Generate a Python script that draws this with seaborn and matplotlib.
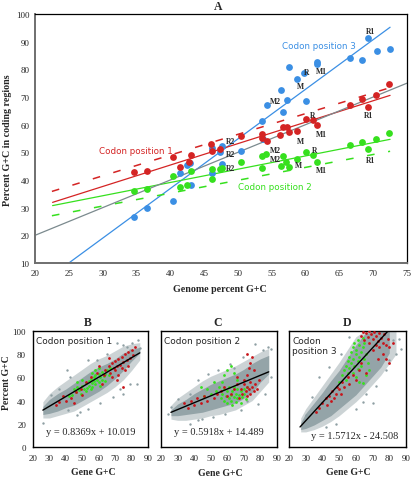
import numpy as np
import pandas as pd
import matplotlib
matplotlib.use("Agg")
import matplotlib.pyplot as plt
import seaborn as sns

sns.set_style("white")
plt.rcParams['font.family'] = ['Liberation Serif', 'DejaVu Serif']

# ---------------- Panel A data ----------------
pos3_x = [34.6, 36.6, 40.4, 41.5, 42.5, 42.9, 43.1, 46.1, 46.2, 47.3, 47.6, 47.7, 50.5, 53.5, 53.7,
          54.3, 56.4, 56.7, 57.3, 57.6, 58.8, 59.8, 60.0, 61.7, 61.7, 66.6, 68.3, 69.3, 70.5, 72.5]
pos3_y = [26.5, 30.0, 32.4, 42.6, 45.5, 46.2, 38.2, 42.4, 51.4, 50.2, 45.8, 52.4, 50.5, 61.5, 55.0,
          67.0, 72.6, 64.6, 69.0, 80.9, 76.6, 78.8, 68.4, 82.8, 82.1, 84.0, 83.2, 91.2, 86.8, 87.4]
pos1_x = [34.6, 36.6, 40.4, 41.5, 42.7, 43.1, 46.0, 46.2, 47.3, 50.5, 53.5, 53.5, 54.3, 56.2, 56.6,
          57.2, 57.5, 58.8, 60.0, 61.1, 61.7, 66.6, 68.3, 69.3, 70.4, 72.4]
pos1_y = [43.0, 43.3, 48.2, 44.7, 46.4, 48.9, 53.0, 50.6, 51.2, 55.8, 56.8, 55.2, 54.0, 56.4, 59.2,
          59.2, 57.4, 57.6, 61.9, 61.6, 59.8, 67.0, 69.4, 66.4, 70.6, 74.8]
pos2_x = [34.6, 36.6, 40.4, 41.5, 42.4, 43.1, 46.2, 46.2, 47.3, 47.6, 50.5, 53.5, 53.6, 54.2, 56.3,
          56.7, 57.1, 57.5, 58.8, 60.0, 61.1, 61.7, 66.6, 68.3, 69.3, 70.4, 72.4]
pos2_y = [36.2, 36.6, 41.4, 37.4, 38.2, 43.4, 44.0, 40.2, 43.8, 44.2, 46.6, 44.2, 48.6, 49.4, 45.0,
          48.6, 46.6, 44.7, 47.6, 50.2, 49.0, 46.6, 52.8, 53.8, 51.1, 55.0, 57.0]

# fitted lines in panel A: slope, intercept, x-start, x-end
lineA_names = ['pos3', 'pos1', 'pos1_dash', 'pos2', 'pos2_dash', 'genome']
lineA_slope = [1.794, 0.775, 0.75, 0.48, 0.466, 1.0]
lineA_icpt = [-34.85, 14.4, 19.0, 19.9, 16.6, 0.0]
lineA_x0 = [25.14, 22.6, 22.5, 22.6, 22.5, 20.0]
lineA_x1 = [72.5, 72.5, 72.5, 72.5, 72.5, 75.0]

# organism labels in panel A
lab_text = ['R1', 'R', 'M1', 'M', 'M2', 'R2',
            'R', 'M1', 'R1', 'M', 'R2',
            'M2', 'M2', 'M', 'R', 'M1', 'R1', 'R2']
lab_x = [69.6, 60.1, 62.4, 59.3, 55.5, 48.9,
         61.0, 62.3, 69.3, 59.3, 48.9,
         55.5, 55.5, 58.9, 61.4, 62.4, 69.6, 48.9]
lab_y = [94.0, 79.2, 79.5, 73.9, 68.4, 54.1,
         63.6, 56.6, 63.5, 54.1, 49.5,
         51.0, 47.7, 45.3, 51.0, 43.7, 47.3, 44.5]

# ---------------- Panels B, C, D data ----------------
slopes = [0.8369, 0.5918, 1.5712]
icpts = [10.019, 14.489, -24.508]
eq_texts = ['y = 0.8369x + 10.019', 'y = 0.5918x + 14.489', 'y = 1.5712x - 24.508']
fit_x0 = [26.0, 26.0, 26.6]
fit_x1 = [85.0, 85.0, 79.2]

# dense core of the gene clouds (lower / upper edge)
b_band_x = [26, 30, 35, 40, 45, 50, 55, 60, 65, 70, 75, 80, 85]
b_band_hi = [35, 41, 46, 50, 55, 60, 65, 69, 72, 76, 81, 84, 86]
b_band_lo = [28, 29, 31, 34, 36, 40, 44, 48, 53, 59, 66, 74, 81]
c_band_x = [26, 30, 35, 40, 45, 50, 55, 60, 65, 70, 75, 80, 85]
c_band_hi = [32, 37, 41, 46, 50, 54, 57, 60, 63, 67, 72, 76, 79]
c_band_lo = [27, 27, 28, 29, 30, 32, 34, 36, 38, 42, 47, 56, 63]
d_band_x = [27, 30, 35, 40, 45, 50, 55, 60, 65, 70, 75, 80]
d_band_hi = [21, 29, 38, 47, 57, 66, 77, 88, 97, 100, 100, 100]
d_band_lo = [15, 16, 19, 23, 27, 33, 39, 45, 53, 61, 69, 81]
# sparser outer part of the clouds
b_out_x = [26, 30, 35, 40, 45, 50, 55, 60, 65, 70, 75, 80, 85]
b_out_hi = [39, 46, 52, 57, 62, 67, 72, 76, 79, 83, 87, 89, 90]
b_out_lo = [25, 25, 27, 29, 31, 35, 39, 43, 47, 52, 58, 66, 75]
c_out_x = [26, 30, 35, 40, 45, 50, 55, 60, 65, 70, 75, 80, 85]
c_out_hi = [36, 42, 47, 52, 57, 61, 64, 67, 70, 74, 78, 82, 85]
c_out_lo = [24, 23, 23, 24, 25, 27, 28, 30, 32, 36, 40, 48, 56]
d_out_x = [27, 30, 35, 40, 45, 50, 55, 60, 65, 70, 75, 80, 84]
d_out_hi = [25, 33, 43, 53, 63, 73, 84, 95, 100, 100, 100, 100, 100]
d_out_lo = [13, 13, 15, 18, 22, 27, 33, 39, 46, 54, 62, 72, 80]

b_gray_x = [25.9, 46.6, 48.6, 53.7, 41.5, 40.5, 42.5, 53.7, 58.8, 64.8, 75.0, 84.1, 79.0, 79.0, 83.1,
            73.0, 75.0, 68.9, 80.1, 85.1, 77.0, 70.9, 36.0, 31.0, 60.5]
b_gray_y = [20.7, 27.3, 30.2, 33.0, 31.6, 66.1, 60.3, 74.7, 74.7, 80.5, 87.6, 92.0, 83.3, 54.6, 54.6,
            50.3, 46.0, 43.1, 89.7, 85.6, 86.2, 89.7, 50.0, 45.0, 38.0]
b_green_x = [44, 45, 46, 47, 48, 49, 50, 51, 52, 52, 53, 54, 54, 55, 55, 56, 56, 57, 57, 58, 58, 59,
             60, 60, 61, 61, 62, 62, 63, 64, 64, 65, 66, 67, 58, 60, 56, 50, 42, 47]
b_green_y = [45, 50, 47, 52, 49, 46, 53, 50, 55, 48, 51, 57, 53, 50, 59, 55, 52, 60, 57, 54, 62, 58,
             56, 63, 60, 53, 58, 65, 61, 63, 57, 66, 62, 68, 66, 68, 64, 58, 44, 56]
b_red_x = [64, 66, 67, 68, 69, 70, 70, 71, 72, 72, 73, 74, 74, 75, 76, 76, 77, 78, 78, 79, 80, 81, 82,
           75, 71, 66, 68, 63, 60, 59, 55, 52, 49, 46, 43, 40, 38, 36, 34, 45, 50, 62]
b_red_y = [66, 70, 64, 72, 68, 66, 74, 70, 62, 76, 71, 68, 78, 73, 80, 66, 75, 70, 82, 77, 84, 79, 86,
           52, 58, 77, 60, 62, 70, 64, 60, 56, 50, 47, 42, 40, 44, 39, 36, 38, 45, 54]

c_gray_x = [84.6, 86.6, 81.5, 76.5, 69.5, 61.4, 54.4, 48.4, 42.3, 37.3, 26.2, 24.2, 37.3, 42.3, 51.4,
            58.4, 68.5, 78.5, 82.5, 86.6, 72.0, 64.0, 30.0, 45.0]
c_gray_y = [86.2, 84.8, 83.3, 89.1, 77.6, 71.8, 66.1, 63.2, 57.5, 46.0, 34.5, 28.7, 20.1, 23.0, 25.9,
            28.7, 31.6, 37.3, 46.0, 60.3, 40.0, 68.0, 41.0, 24.0]
c_green_x = [56, 57, 58, 58, 59, 60, 60, 61, 61, 62, 62, 63, 63, 64, 64, 65, 65, 66, 66, 67, 68, 68,
             69, 70, 70, 71, 55, 53, 50, 48, 46, 52, 58, 60, 62, 64, 66, 44, 57, 72]
c_green_y = [42, 46, 40, 50, 44, 48, 38, 42, 52, 45, 40, 48, 36, 43, 52, 46, 39, 50, 42, 45, 48, 38,
             43, 50, 46, 41, 52, 48, 46, 50, 44, 56, 62, 66, 70, 64, 58, 52, 56, 52]
c_red_x = [68, 69, 70, 71, 72, 72, 73, 74, 74, 75, 76, 77, 78, 70, 72, 73, 74, 75, 72, 76, 66, 64, 62,
           60, 56, 52, 48, 44, 42, 40, 38, 36, 34, 46, 54, 58, 66, 79, 67]
c_red_y = [50, 46, 54, 48, 52, 44, 50, 46, 56, 52, 48, 54, 50, 58, 62, 68, 72, 78, 80, 66, 54, 50, 46,
           44, 48, 42, 40, 38, 42, 36, 40, 34, 38, 44, 46, 52, 60, 58, 42]

d_gray_x = [87.0, 84.0, 80.0, 78.0, 72.0, 66.0, 64.0, 34.0, 38.0, 44.0, 51.0, 56.0, 85.6, 82.0, 70.0,
            60.0, 48.0, 42.0, 30.0]
d_gray_y = [84.8, 80.5, 74.7, 66.0, 53.0, 46.0, 39.0, 43.0, 60.0, 69.0, 80.0, 95.0, 93.4, 92.0, 38.0,
            33.0, 20.0, 17.0, 28.0]
d_green_x = [52, 53, 54, 55, 55, 56, 56, 57, 57, 58, 58, 59, 59, 60, 60, 61, 61, 62, 62, 63, 63, 64,
             64, 65, 65, 66, 66, 67, 68, 58, 60, 62, 54, 50, 64, 61]
d_green_y = [62, 66, 70, 74, 64, 78, 68, 82, 72, 86, 76, 70, 90, 80, 84, 74, 92, 78, 88, 82, 70, 86,
             94, 76, 90, 80, 62, 72, 66, 64, 60, 56, 58, 56, 55, 67]
d_red_x = [63, 64, 65, 66, 67, 68, 68, 69, 70, 71, 72, 72, 73, 74, 74, 75, 76, 77, 78, 79, 80, 82,
           70, 76, 73, 78, 80, 38, 40, 42, 44, 45, 46, 48, 49, 50, 52, 53, 55, 56, 58, 60, 62, 47,
           43, 51, 36, 63, 66]
d_red_y = [96, 99, 92, 98, 95, 100, 90, 97, 93, 99, 88, 96, 91, 98, 86, 94, 90, 97, 88, 93, 86, 90,
           84, 80, 76, 76, 72, 34, 38, 42, 44, 40, 48, 46, 52, 50, 56, 52, 60, 54, 62, 58, 66, 42,
           36, 46, 30, 72, 64]

# ---------------- styling ----------------
BLUE = '#3b8fe4'
RED = '#d42424'
GREEN = '#36e01e'
GRAYLINE = '#7b8a8e'
CLOUD = '#8e9fa3'
SERIF = ['Liberation Serif', 'DejaVu Serif']
SANS = ['DejaVu Sans']

W, H = 416, 481
fig = plt.figure(figsize=(W / 100, H / 100), dpi=100)

def frac_ax(l, t, r, b):
    return fig.add_axes([l / W, 1 - b / H, (r - l) / W, (b - t) / H])

# ================= Panel A =================
axA = frac_ax(35, 15, 407, 264)
dfs = [(pos3_x, pos3_y, BLUE), (pos1_x, pos1_y, RED), (pos2_x, pos2_y, GREEN)]

line_styles = {'pos3': (BLUE, '-'), 'pos1': (RED, '-'), 'pos1_dash': (RED, (0, (5, 9))),
               'pos2': (GREEN, '-'), 'pos2_dash': (GREEN, (0, (5, 9))), 'genome': (GRAYLINE, '-')}
for n, s, c, x0, x1 in zip(lineA_names, lineA_slope, lineA_icpt, lineA_x0, lineA_x1):
    xs = np.array([x0, x1])
    col, ls = line_styles[n]
    lw = 1.1 if 'dash' in n else 0.9
    axA.plot(xs, s * xs + c, color=col, linestyle=ls, lw=lw, zorder=2)

for xv, yv, col in dfs:
    sns.scatterplot(x=xv, y=yv, ax=axA, color=col, s=24, linewidth=0, zorder=3)

for t, x, y in zip(lab_text, lab_x, lab_y):
    axA.text(x, y, t, fontsize=5.5, fontweight='bold', family=SERIF, ha='center', va='center', zorder=4)

axA.text(62.0, 88.6, 'Codon position 3', color=BLUE, fontsize=6.3, family=SANS, ha='center', va='center')
axA.text(34.9, 50.6, 'Codon position 1', color=RED, fontsize=6.3, family=SANS, ha='center', va='center')
axA.text(55.5, 37.7, 'Codon position 2', color=GREEN, fontsize=6.3, family=SANS, ha='center', va='center')

axA.set_xlim(20, 75)
axA.set_ylim(10, 100)
axA.set_xticks(np.arange(20, 76, 5))
axA.set_yticks(np.arange(10, 101, 10))
axA.tick_params(axis='both', labelsize=6.5, length=2, width=0.8, direction='out', pad=2, color='#555555')
for lab in axA.get_xticklabels() + axA.get_yticklabels():
    lab.set_family(SERIF)
for sp in ['left', 'bottom']:
    axA.spines[sp].set_color('#6f6f6f')
    axA.spines[sp].set_linewidth(1.4)
for sp in ['top', 'right']:
    axA.spines[sp].set_color('black')
    axA.spines[sp].set_linewidth(0.9)
axA.set_xlabel('')
axA.set_ylabel('')
fig.text(218 / W, 1 - 7 / H, 'A', fontsize=8.5, fontweight='bold', family=SERIF, ha='center', va='center')
fig.text(220 / W, 1 - 290 / H, 'Genome percent G+C', fontsize=7.2, fontweight='bold', family=SERIF,
         ha='center', va='center')
fig.text(8 / W, 1 - 140 / H, 'Percent G+C in coding regions', fontsize=7.2, fontweight='bold',
         family=SERIF, ha='center', va='center', rotation=90)

# ================= Panels B, C, D =================
panel_boxes = [(33, 332, 148, 448), (161, 332, 277, 448), (289, 332, 406, 448)]
bands = [(b_band_x, b_band_lo, b_band_hi), (c_band_x, c_band_lo, c_band_hi), (d_band_x, d_band_lo, d_band_hi)]
outer = [(b_out_x, b_out_lo, b_out_hi), (c_out_x, c_out_lo, c_out_hi), (d_out_x, d_out_lo, d_out_hi)]
grays = [(b_gray_x, b_gray_y), (c_gray_x, c_gray_y), (d_gray_x, d_gray_y)]
greens = [(b_green_x, b_green_y), (c_green_x, c_green_y), (d_green_x, d_green_y)]
reds = [(b_red_x, b_red_y), (c_red_x, c_red_y), (d_red_x, d_red_y)]
titles = ['B', 'C', 'D']
title_x = [88, 218, 347]
codon_lbl = ['Codon position 1', 'Codon position 2', 'Codon\nposition 3']
codon_y = [91.6, 91.6, 87.3]
eq_pos = [(55, 13), (55, 13), (59, 10)]
xlab_y = [473, 474, 473]
xlab_x = [93, 220, 348]

for i in range(3):
    l, t, r, b = panel_boxes[i]
    ax = frac_ax(l, t, r, b)
    ox, olo, ohi = outer[i]
    ax.fill_between(ox, olo, ohi, color=CLOUD, linewidth=0, alpha=0.45, zorder=1)
    bx, blo, bhi = bands[i]
    ax.fill_between(bx, blo, bhi, color=CLOUD, linewidth=0, alpha=0.9, zorder=1)
    sns.scatterplot(x=grays[i][0], y=grays[i][1], ax=ax, color=CLOUD, s=3, linewidth=0, zorder=2)
    sns.scatterplot(x=greens[i][0], y=greens[i][1], ax=ax, color=GREEN, s=4, linewidth=0, zorder=3)
    sns.scatterplot(x=reds[i][0], y=reds[i][1], ax=ax, color='#c8141a', s=4, linewidth=0, zorder=4)
    xs = np.array([fit_x0[i], fit_x1[i]])
    ax.plot(xs, slopes[i] * xs + icpts[i], color='black', lw=1.0, zorder=5)
    ax.set_xlim(20, 90)
    ax.set_ylim(0, 100)
    ax.set_xticks(np.arange(20, 91, 10))
    ax.set_yticks(np.arange(0, 101, 20))
    ax.tick_params(axis='both', labelsize=6.5, length=2, width=0.8, direction='out', pad=3)
    if i > 0:
        ax.tick_params(axis='y', labelleft=False, length=0)
    for lab in ax.get_xticklabels() + ax.get_yticklabels():
        lab.set_family(SERIF)
    for sp in ax.spines.values():
        sp.set_color('black')
        sp.set_linewidth(1.0)
    ax.set_xlabel('')
    ax.set_ylabel('')
    ax.text(22, codon_y[i], codon_lbl[i], fontsize=6.5, family=SANS, ha='left', va='center',
            linespacing=1.15, zorder=6)
    ax.text(eq_pos[i][0], eq_pos[i][1], eq_texts[i], fontsize=7.5, family=SERIF, ha='center',
            va='center', zorder=6)
    fig.text(title_x[i] / W, 1 - 323 / H, titles[i], fontsize=8.5, fontweight='bold', family=SERIF,
             ha='center', va='center')
    fig.text(xlab_x[i] / W, 1 - xlab_y[i] / H, 'Gene G+C', fontsize=7, fontweight='bold', family=SERIF,
             ha='center', va='center')

fig.text(7 / W, 1 - 383 / H, 'Percent G+C', fontsize=7, fontweight='bold', family=SERIF,
         ha='center', va='center', rotation=90)

fig.savefig('out.png', dpi=100)
